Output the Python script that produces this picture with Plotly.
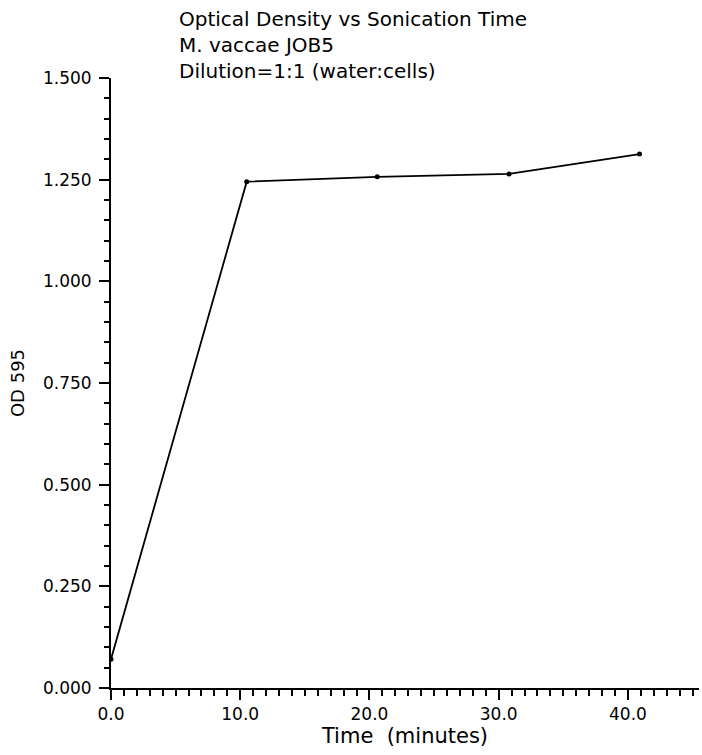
import plotly.graph_objects as go

# Data
time_min = [0.0, 10.5, 20.6, 30.8, 40.9]
od_595 = [0.071, 1.245, 1.257, 1.264, 1.313]

title_lines = ["Optical Density vs Sonication Time", "M. vaccae JOB5", "Dilution=1:1 (water:cells)"]
x_title = "Time  (minutes)"
y_title = "OD 595"

W, H = 702, 755
L, R, T, B = 111, 3, 78, 67
FONT = "DejaVu Sans"

fig = go.Figure()
fig.add_trace(go.Scatter(
    x=time_min, y=od_595, mode="lines+markers",
    line=dict(color="black", width=1.8),
    marker=dict(color="black", size=5, symbol="circle"),
    showlegend=False, hoverinfo="skip",
))

axis_common = dict(
    showline=True, linecolor="black", linewidth=2,
    ticks="outside", tickcolor="black", tickwidth=2,
    showgrid=False, zeroline=False, mirror=False,
    tickfont=dict(family=FONT, size=17, color="black"),
)

fig.update_xaxes(
    range=[0, 45.5], tick0=0, dtick=10, tickformat=".1f", ticklen=10,
    minor=dict(dtick=1, ticklen=6, tickcolor="black", tickwidth=1.5, ticks="outside", showgrid=False),
    title=dict(text=x_title, font=dict(family=FONT, size=21, color="black"), standoff=0),
    **axis_common,
)
fig.update_yaxes(
    range=[0, 1.5], tick0=0, dtick=0.25, tickformat=".3f", ticklen=10,
    minor=dict(dtick=0.05, ticklen=5, tickcolor="black", tickwidth=1.5, ticks="outside", showgrid=False),
    title=dict(text=y_title, font=dict(family=FONT, size=18, color="black"), standoff=14),
    ticklabelstandoff=4,
    **axis_common,
)

plot_w = W - L - R
plot_h = H - T - B
fig.add_annotation(
    xref="paper", yref="paper",
    x=(177 - L) / plot_w, y=1 + (T - 5) / plot_h,
    xanchor="left", yanchor="top", align="left", showarrow=False,
    text="<br>".join(title_lines),
    font=dict(family=FONT, size=20, color="black"),
)

fig.update_layout(
    width=W, height=H,
    margin=dict(l=L, r=R, t=T, b=B, pad=0),
    paper_bgcolor="white", plot_bgcolor="white",
)

fig.write_html("out.html")
